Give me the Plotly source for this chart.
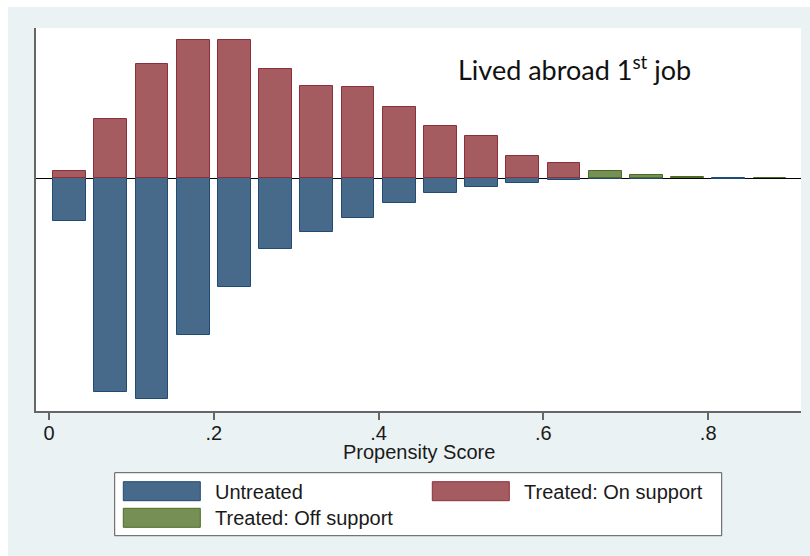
import plotly.graph_objects as go

# Propensity-score bins (bin midpoints, width 0.05)
bin_mid = [0.025, 0.075, 0.125, 0.175, 0.225, 0.275, 0.325, 0.375, 0.425,
           0.475, 0.525, 0.575, 0.625, 0.675, 0.725, 0.775, 0.825, 0.875]

# Share of observations per bin (percent of each group)
untreated = [4.47, 22.16, 22.89, 16.30, 11.32, 7.37, 5.55, 4.12, 2.60,
             1.56, 0.93, 0.52, 0.21, 0.05, 0.10, 0.0, 0.08, 0.0]
treated_on = [0.79, 6.19, 11.84, 14.36, 14.33, 11.32, 9.58, 9.45, 7.44,
              5.40, 4.39, 2.35, 1.56, 0.0, 0.0, 0.0, 0.0, 0.0]
treated_off = [0.0, 0.0, 0.0, 0.0, 0.0, 0.0, 0.0, 0.0, 0.0,
               0.0, 0.0, 0.0, 0.0, 0.71, 0.31, 0.10, 0.0, 0.06]

tick_vals = [0, 0.2, 0.4, 0.6, 0.8]
tick_text = ["0", ".2", ".4", ".6", ".8"]
series_names = ["Untreated", "Treated: On support", "Treated: Off support"]
x_title = "Propensity Score"
panel_title = "Lived abroad 1<sup>st</sup> job"

# Styling
W, H = 810, 556
M = dict(l=36, r=9, t=28, b=145)
BG = "#EAF2F3"
FILL = {"Untreated": "#476A8B", "Treated: On support": "#A55C61", "Treated: Off support": "#768F55"}
EDGE = {"Untreated": "#1F4B74", "Treated: On support": "#8C2F3A", "Treated: Off support": "#4C6B25"}
TXT = "#1A1A1A"
SANS = "Liberation Sans, Arial, sans-serif"


def px_x(p):
    return (p - M["l"]) / (W - M["l"] - M["r"])


def px_y(p):
    return (H - M["b"] - p) / (H - M["t"] - M["b"])


fig = go.Figure()
series_vals = {
    "Untreated": [-v for v in untreated],
    "Treated: On support": treated_on,
    "Treated: Off support": treated_off,
}
for name in series_names:
    # empty bins are left out so no outline is drawn for them
    xs = [x for x, v in zip(bin_mid, series_vals[name]) if v != 0]
    ys = [v for v in series_vals[name] if v != 0]
    fig.add_trace(go.Bar(
        x=xs, y=ys, width=0.04, name=name,
        marker=dict(color=FILL[name], line=dict(color=EDGE[name], width=1)),
        showlegend=False,
    ))

shapes = [
    # thin white border strips around the light graph region
    dict(type="rect", xref="paper", yref="paper", x0=px_x(0), x1=px_x(W), y0=px_y(0), y1=px_y(7),
         fillcolor="white", line=dict(width=0)),
    dict(type="rect", xref="paper", yref="paper", x0=px_x(0), x1=px_x(8), y0=px_y(0), y1=px_y(H),
         fillcolor="white", line=dict(width=0)),
    # legend frame
    dict(type="rect", xref="paper", yref="paper", x0=px_x(114.7), x1=px_x(721.7),
         y0=px_y(472.7), y1=px_y(535.7), fillcolor="white", line=dict(color="#555555", width=1)),
]
annotations = []

legend_items = [
    ("Untreated", 123.3, 481.7),
    ("Treated: On support", 432.3, 481.7),
    ("Treated: Off support", 123.3, 508.3),
]
for name, sx, sy in legend_items:
    shapes.append(dict(type="rect", xref="paper", yref="paper",
                       x0=px_x(sx), x1=px_x(sx + 77), y0=px_y(sy), y1=px_y(sy + 19),
                       fillcolor=FILL[name], line=dict(color=EDGE[name], width=1)))
    annotations.append(dict(text=name, xref="paper", yref="paper", x=px_x(sx + 90),
                            y=px_y(sy + 10), xanchor="left", yanchor="middle", showarrow=False,
                            font=dict(family=SANS, size=20, color=TXT)))

# x-axis title
annotations.append(dict(text=x_title, xref="paper", yref="paper", x=0.5, y=px_y(452),
                        xanchor="center", yanchor="middle", showarrow=False,
                        font=dict(family=SANS, size=20, color=TXT)))

annotations.append(dict(text=panel_title, xref="paper", yref="paper", x=px_x(574), y=px_y(68),
                        xanchor="center", yanchor="middle", showarrow=False,
                        font=dict(family="Lato, Open Sans, sans-serif", size=27, color="#111111")))

k = 9.63  # pixels per percent
zero_px = 178.3
y_top = (zero_px - M["t"]) / k
y_bot = -(H - M["b"] - zero_px) / k

fig.update_layout(
    width=W, height=H, margin=M,
    paper_bgcolor=BG, plot_bgcolor="white",
    barmode="relative", bargap=0,
    shapes=shapes, annotations=annotations,
    font=dict(family=SANS, size=20, color=TXT),
    xaxis=dict(range=[-0.01578, 0.91262], tickvals=tick_vals, ticktext=tick_text,
               ticks="outside", ticklen=7, tickwidth=1.5, tickcolor="#666666",
               ticklabelstandoff=-4,
               showline=True, linecolor="#666666", linewidth=1.5, showgrid=False,
               zeroline=False, tickfont=dict(size=20, color=TXT)),
    yaxis=dict(range=[y_bot, y_top], showticklabels=False, ticks="", showgrid=False,
               showline=True, linecolor="#666666", linewidth=1.5,
               zeroline=True, zerolinecolor="black", zerolinewidth=1),
)

fig.write_html("out.html")
